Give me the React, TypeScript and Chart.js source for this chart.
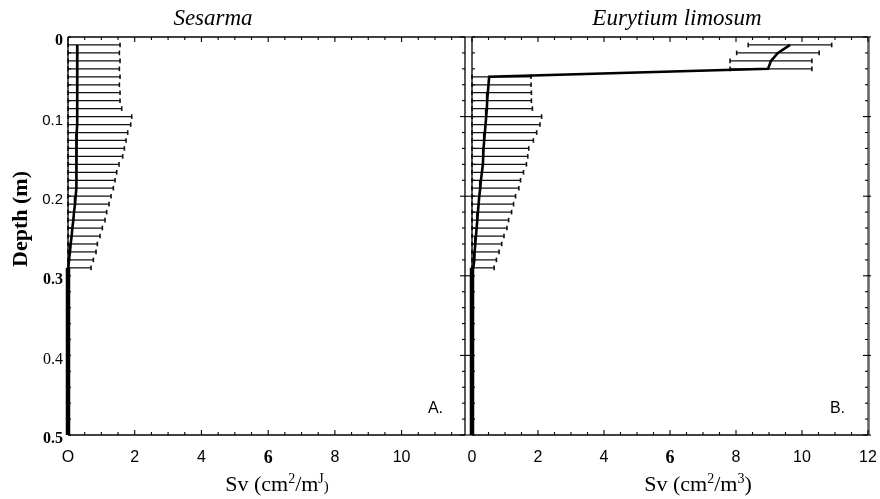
import React, { useEffect, useRef } from "react";
import { Chart, registerables } from "chart.js";

Chart.register(...registerables);

// ---------- data ----------
const depths = [
  0.01, 0.02, 0.03, 0.04, 0.05, 0.06, 0.07, 0.08, 0.09, 0.1,
  0.11, 0.12, 0.13, 0.14, 0.15, 0.16, 0.17, 0.18, 0.19, 0.2,
  0.21, 0.22, 0.23, 0.24, 0.25, 0.26, 0.27, 0.28, 0.29,
];

const sesarmaMean = [
  0.28, 0.28, 0.28, 0.28, 0.28, 0.28, 0.28, 0.27, 0.27, 0.27,
  0.27, 0.26, 0.26, 0.26, 0.25, 0.25, 0.25, 0.25, 0.24, 0.23,
  0.21, 0.18, 0.16, 0.13, 0.11, 0.08, 0.06, 0.03, 0.01,
];
const sesarmaLower = [
  0, 0, 0, 0, 0, 0, 0, 0, 0, 0,
  0, 0, 0, 0, 0, 0, 0, 0, 0, 0,
  0, 0, 0, 0, 0, 0, 0, 0, 0,
];
const sesarmaUpper = [
  1.56, 1.54, 1.56, 1.54, 1.56, 1.54, 1.56, 1.56, 1.61, 1.91,
  1.88, 1.79, 1.74, 1.69, 1.64, 1.53, 1.46, 1.41, 1.36, 1.29,
  1.23, 1.16, 1.11, 1.03, 0.96, 0.88, 0.84, 0.76, 0.69,
];

const eurytiumMean = [
  9.64, 9.27, 9.06, 8.97, 0.52, 0.5, 0.48, 0.46, 0.45, 0.43,
  0.41, 0.39, 0.37, 0.35, 0.34, 0.33, 0.3, 0.27, 0.25, 0.22,
  0.2, 0.18, 0.16, 0.14, 0.12, 0.1, 0.08, 0.07, 0.04,
];
const eurytiumLower = [
  8.37, 8.02, 7.82, 7.82, 0, 0, 0, 0, 0, 0,
  0, 0, 0, 0, 0, 0, 0, 0, 0, 0,
  0, 0, 0, 0, 0, 0, 0, 0, 0,
];
const eurytiumUpper = [
  10.9, 10.52, 10.3, 10.3, 1.79, 1.79, 1.8, 1.8, 1.83, 2.11,
  2.06, 1.96, 1.86, 1.72, 1.69, 1.65, 1.56, 1.47, 1.42, 1.32,
  1.26, 1.2, 1.11, 1.06, 0.97, 0.9, 0.82, 0.74, 0.67,
];

// zero line continuing below the sampled depths
const baseDepths = [0.29, 0.5];
const baseValues = [0, 0];

const leftXTickLabels = ["O", "2", "4", "6", "8", "10"];
const rightXTickLabels = ["0", "2", "4", "6", "8", "10", "12"];
const yTickLabels = ["0", "0.1", "0.2", "0.3", "0.4", "0.5"];

const SERIF = '"Liberation Serif", "Times New Roman", serif';
const SANS = '"Liberation Sans", Arial, sans-serif';

type Part = { t: string; sup?: boolean; size?: number };

type PanelProps = {
  canvasLeft: number;
  canvasWidth: number;
  padRight: number;
  yWidth: number;
  xMax: number;
  mean: number[];
  lower: number[];
  upper: number[];
  xTickLabels: string[];
  showYLabels: boolean;
  title: string;
  titleCenter: number;
  xTitle: Part[];
  xTitleCenter: number;
  letter: string;
  letterRight: number;
  grayRight: boolean;
  depthLabel: boolean;
};

function Panel(p: PanelProps) {
  const ref = useRef<HTMLCanvasElement | null>(null);

  useEffect(() => {
    const canvas = ref.current;
    if (!canvas) return;
    const off = p.canvasLeft;

    const line = (ctx: CanvasRenderingContext2D, x1: number, y1: number, x2: number, y2: number) => {
      ctx.beginPath();
      ctx.moveTo(x1, y1);
      ctx.lineTo(x2, y2);
      ctx.stroke();
    };

    const decor = {
      id: "decor",
      beforeDatasetsDraw(chart: any) {
        const { ctx, scales } = chart;
        const x = scales.x;
        const y = scales.y;
        ctx.save();
        ctx.strokeStyle = "#111";
        depths.forEach((d, i) => {
          const py = y.getPixelForValue(d);
          const x1 = x.getPixelForValue(p.lower[i]);
          const x2 = x.getPixelForValue(p.upper[i]);
          ctx.lineWidth = 1.25;
          line(ctx, x1, py, x2, py);
          ctx.lineWidth = 1.6;
          line(ctx, x2, py - 2.3, x2, py + 2.3);
          line(ctx, x1, py - 2.3, x1, py + 2.3);
        });
        ctx.restore();
      },
      afterDraw(chart: any) {
        const { ctx, chartArea: a, scales } = chart;
        const x = scales.x;
        const y = scales.y;
        ctx.save();
        ctx.strokeStyle = "#000";
        // frame
        ctx.lineWidth = 1.3;
        line(ctx, a.left, a.top, a.left, a.bottom);
        line(ctx, a.left, a.bottom, a.right, a.bottom);
        ctx.lineWidth = 1.6;
        line(ctx, a.left, a.top, a.right, a.top);
        if (p.grayRight) {
          ctx.strokeStyle = "#666";
          ctx.lineWidth = 2.6;
          line(ctx, a.right + 0.5, a.top, a.right + 0.5, a.bottom);
          ctx.strokeStyle = "#000";
        } else {
          ctx.lineWidth = 1.3;
          line(ctx, a.right, a.top, a.right, a.bottom);
        }
        // x ticks (inside)
        ctx.lineWidth = 1.1;
        for (let k = 0; k * 0.5 <= p.xMax + 1e-9; k++) {
          const v = k * 0.5;
          const px = x.getPixelForValue(v);
          const len = k % 4 === 0 ? 5 : 3;
          line(ctx, px, a.bottom, px, a.bottom - len);
          line(ctx, px, a.top, px, a.top + len);
        }
        // y ticks
        for (let k = 0; k <= 25; k++) {
          const d = k * 0.02;
          const py = y.getPixelForValue(d);
          const major = k % 5 === 0;
          line(ctx, a.right, py, a.right - (major ? 5 : 3), py);
          if (major) line(ctx, a.right, py, a.right + 3, py);
          line(ctx, a.left, py, a.left + 3, py);
          if (major && !p.showYLabels) line(ctx, a.left, py, a.left - 4, py);
        }
        // panel title
        ctx.fillStyle = "#000";
        ctx.textAlign = "center";
        ctx.textBaseline = "alphabetic";
        ctx.font = `italic 23px ${SERIF}`;
        ctx.fillText(p.title, p.titleCenter - off, 25);
        // x title with superscripts
        const base = 22;
        const widths = p.xTitle.map((part) => {
          const size = part.size ?? (part.sup ? 14 : base);
          ctx.font = `${size}px ${SERIF}`;
          return ctx.measureText(part.t).width;
        });
        const total = widths.reduce((s, w) => s + w, 0);
        let cx = p.xTitleCenter - off - total / 2;
        ctx.textAlign = "left";
        p.xTitle.forEach((part, i) => {
          const size = part.size ?? (part.sup ? 14 : base);
          ctx.font = `${size}px ${SERIF}`;
          ctx.fillText(part.t, cx, part.sup ? 483 : 491);
          cx += widths[i];
        });
        // letter
        ctx.font = `16px ${SANS}`;
        ctx.textAlign = "right";
        ctx.fillText(p.letter, p.letterRight - off, 413);
        // depth label
        if (p.depthLabel) {
          ctx.save();
          ctx.translate(27 - off, 219);
          ctx.rotate(-Math.PI / 2);
          ctx.textAlign = "center";
          ctx.font = `bold 22px ${SERIF}`;
          ctx.fillText("Depth (m)", 0, 0);
          ctx.restore();
        }
        ctx.restore();
      },
    };

    const chart = new Chart(canvas, {
      type: "scatter",
      data: {
        datasets: [
          {
            data: depths.map((d, i) => ({ x: p.mean[i], y: d })),
            showLine: true,
            borderColor: "#000",
            borderWidth: 2.6,
            pointRadius: 0,
            clip: false as any,
          },
          {
            data: baseDepths.map((d, i) => ({ x: baseValues[i], y: d })),
            showLine: true,
            borderColor: "#000",
            borderWidth: 4.5,
            pointRadius: 0,
            clip: false as any,
          },
        ],
      },
      options: {
        animation: false,
        responsive: false,
        devicePixelRatio: 1,
        layout: { padding: { left: 0, right: p.padRight, top: 37, bottom: 0 } },
        plugins: {
          legend: { display: false },
          tooltip: { enabled: false },
          title: { display: false },
        },
        scales: {
          x: {
            type: "linear",
            position: "bottom",
            min: 0,
            max: p.xMax,
            grid: { display: false, drawTicks: true, tickLength: 12 },
            border: { display: false },
            ticks: {
              stepSize: 2,
              includeBounds: false,
              autoSkip: false,
              maxRotation: 0,
              padding: 1,
              color: "#000",
              callback: (v: any) => p.xTickLabels[Math.round(Number(v) / 2)] ?? "",
              font: (c: any) =>
                Math.round(Number(c.tick?.value)) === 6
                  ? { family: SERIF, size: 18, weight: "bold" }
                  : { family: SANS, size: 16 },
            },
            afterFit: (s: any) => {
              s.height = 64;
            },
          },
          y: {
            type: "linear",
            min: 0,
            max: 0.5,
            reverse: true,
            grid: { display: false, drawTicks: false },
            border: { display: false },
            ticks: {
              display: p.showYLabels,
              stepSize: 0.1,
              padding: 5,
              labelOffset: 4,
              color: "#000",
              autoSkip: false,
              callback: (v: any) => yTickLabels[Math.round(Number(v) * 10)] ?? "",
              font: (c: any) => {
                const k = Math.round(Number(c.tick?.value) * 10);
                if (k === 0 || k === 3 || k === 5) return { family: SERIF, size: 16, weight: "bold" };
                if (k === 4) return { family: SERIF, size: 16 };
                return { family: SANS, size: 15 };
              },
            },
            afterFit: (s: any) => {
              s.width = p.yWidth;
            },
          },
        },
      } as any,
      plugins: [decor],
    });

    return () => chart.destroy();
  }, []);

  return (
    <canvas
      ref={ref}
      width={p.canvasWidth}
      height={499}
      style={{
        position: "absolute",
        left: p.canvasLeft,
        top: 0,
        width: p.canvasWidth,
        height: 499,
      }}
    />
  );
}

export default function App() {
  return (
    <div
      style={{
        position: "fixed",
        left: 0,
        top: 0,
        width: 880,
        height: 499,
        background: "#fff",
        overflow: "hidden",
      }}
    >
      <Panel
        canvasLeft={0}
        canvasWidth={470}
        padRight={5}
        yWidth={68}
        xMax={11.9}
        mean={sesarmaMean}
        lower={sesarmaLower}
        upper={sesarmaUpper}
        xTickLabels={leftXTickLabels}
        showYLabels={true}
        title="Sesarma"
        titleCenter={213}
        xTitle={[
          { t: "Sv (cm" },
          { t: "2", sup: true },
          { t: "/m" },
          { t: "J", sup: true },
          { t: ")", size: 15 },
        ]}
        xTitleCenter={277}
        letter="A."
        letterRight={443}
        grayRight={false}
        depthLabel={true}
      />
      <Panel
        canvasLeft={460}
        canvasWidth={420}
        padRight={12}
        yWidth={12}
        xMax={12}
        mean={eurytiumMean}
        lower={eurytiumLower}
        upper={eurytiumUpper}
        xTickLabels={rightXTickLabels}
        showYLabels={false}
        title="Eurytium limosum"
        titleCenter={677}
        xTitle={[
          { t: "Sv (cm" },
          { t: "2", sup: true },
          { t: "/m" },
          { t: "3", sup: true },
          { t: ")" },
        ]}
        xTitleCenter={698}
        letter="B."
        letterRight={845}
        grayRight={true}
        depthLabel={false}
      />
    </div>
  );
}
